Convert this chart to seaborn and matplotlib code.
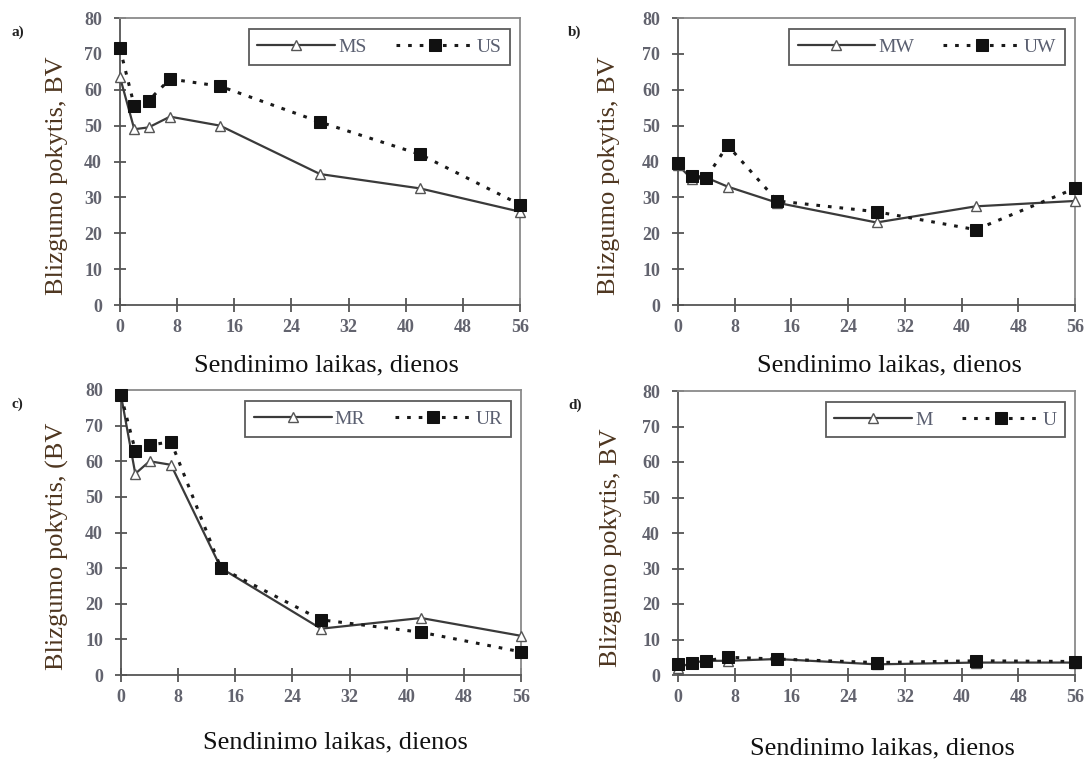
import numpy as np
import pandas as pd
import seaborn as sns
import matplotlib
matplotlib.use("Agg")
import matplotlib.pyplot as plt

days = [0, 2, 4, 7, 14, 28, 42, 56]

panel_labels = ["a)", "b)", "c)", "d)"]
m_names = ["MS", "MW", "MR", "M"]
u_names = ["US", "UW", "UR", "U"]

m_values = [
    [63.5, 49.0, 49.5, 52.5, 50.0, 36.5, 32.5, 26.0],
    [39.0, 35.0, 35.5, 33.0, 28.5, 23.0, 27.5, 29.0],
    [78.5, 56.5, 60.0, 59.0, 30.0, 13.0, 16.0, 11.0],
    [2.0, 3.5, 4.0, 4.0, 4.5, 3.0, 3.5, 3.5],
]
u_values = [
    [71.5, 55.5, 57.0, 63.0, 61.0, 51.0, 42.0, 28.0],
    [39.5, 36.0, 35.5, 44.5, 29.0, 26.0, 21.0, 32.5],
    [78.5, 63.0, 64.5, 65.5, 30.0, 15.5, 12.0, 6.5],
    [3.0, 3.5, 4.0, 5.0, 4.5, 3.5, 4.0, 3.8],
]

y_labels = ["Blizgumo pokytis, BV", "Blizgumo pokytis, BV",
            "Blizgumo pokytis, (BV", "Blizgumo pokytis, BV"]
x_label = "Sendinimo laikas, dienos"
x_ticks = [0, 8, 16, 24, 32, 40, 48, 56]
y_ticks = [0, 10, 20, 30, 40, 50, 60, 70, 80]

sns.set_theme(style="white")
plt.rcParams["font.family"] = ["Liberation Serif", "DejaVu Serif"]

W, H = 1088, 759
fig = plt.figure(figsize=(W / 100, H / 100), dpi=100)

# axes boxes in pixels: left, top, right, bottom
boxes = [(120, 18, 520, 305), (678, 18, 1075, 305),
         (121, 390, 521, 675), (678, 391, 1075, 675)]
xlabel_pos = [(326, 365), (889, 365), (335, 742), (882, 748)]
ylabel_x = [-0.13, -0.145, -0.13, -0.14]
panel_x = [12, 568, 12, 568]

tick_color = "#62636e"
ylab_color = "#4e3620"

for i in range(4):
    l, t, r, b = boxes[i]
    ax = fig.add_axes([l / W, 1 - b / H, (r - l) / W, (b - t) / H])
    dfm = pd.DataFrame({"day": days, "val": m_values[i]})
    dfu = pd.DataFrame({"day": days, "val": u_values[i]})
    sns.lineplot(data=dfm, x="day", y="val", ax=ax, color="#3a3a3a",
                 linewidth=1.6, marker="^", markersize=7,
                 markerfacecolor="white", markeredgecolor="#555555",
                 markeredgewidth=1.0, label=m_names[i], zorder=3,
                 clip_on=False)
    sns.lineplot(data=dfu, x="day", y="val", ax=ax, color="#1a1a1a",
                 linewidth=2.2, linestyle=(0, (1.2, 2.6)), marker="s",
                 markersize=9, markerfacecolor="#111111",
                 markeredgecolor="#111111", label=u_names[i], zorder=4,
                 clip_on=False)
    ax.set_xlim(0, 56)
    ax.set_ylim(0, 80)
    ax.set_xticks(x_ticks)
    ax.set_yticks(y_ticks)
    ax.tick_params(axis="x", direction="inout", length=10, width=1.3,
                   color="#555555", labelsize=13, labelcolor=tick_color,
                   bottom=True, pad=5)
    ax.tick_params(axis="y", direction="inout", length=8, width=1.3,
                   color="#555555", labelsize=13, labelcolor=tick_color,
                   left=True, pad=9)
    for lab in ax.get_xticklabels() + ax.get_yticklabels():
        lab.set_fontweight("bold")
    for sp in ax.spines.values():
        sp.set_color("#8a8a8a")
        sp.set_linewidth(1.3)
    ax.spines["left"].set_color("#555555")
    ax.spines["bottom"].set_color("#555555")
    ax.set_xlabel("")
    ax.set_ylabel(y_labels[i], fontsize=19, color=ylab_color)
    ax.yaxis.set_label_coords(ylabel_x[i], 0.45)
    fig.text(xlabel_pos[i][0] / W, 1 - xlabel_pos[i][1] / H, x_label,
             fontsize=19, ha="center", va="center", color="#111111")
    fig.text(panel_x[i] / W, 1 - (t + 14) / H, panel_labels[i], fontsize=11,
             fontweight="bold", ha="left", va="center", color="#222222")
    leg = ax.legend(loc="upper right", ncol=2, frameon=True, fancybox=False,
                    fontsize=14, handlelength=4.0, columnspacing=1.5,
                    handletextpad=0.15, borderpad=0.45, borderaxespad=0,
                    bbox_to_anchor=(0.975, 0.96))
    leg.get_frame().set_edgecolor("#333333")
    leg.get_frame().set_linewidth(1.3)
    for txt in leg.get_texts():
        txt.set_color("#5a5f70")

fig.savefig("out.png", dpi=100, facecolor="white")
